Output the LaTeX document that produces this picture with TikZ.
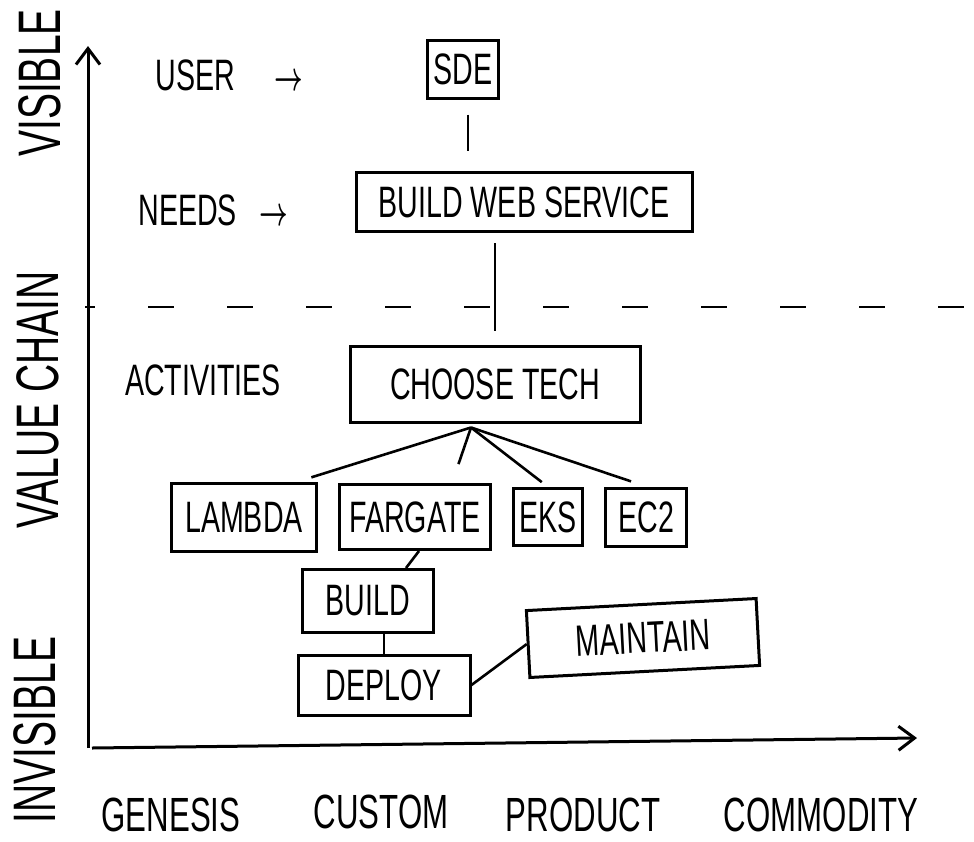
\documentclass[tikz,border=0pt]{standalone}
\usepackage{fontspec}
\setmainfont[FakeStretch=0.65]{Liberation Sans}
\usepackage{tikz}
\usetikzlibrary{arrows.meta, positioning, calc}

\newcommand{\handarrow}{\scalebox{0.6}[1]{\fontsize{20}{20}\selectfont\boldmath$\rightarrow$}}

\begin{document}
\begin{tikzpicture}[
  x=0.5pt, y=-0.5pt,
  node distance=10pt,
  hand/.style={font=\fontsize{22}{24}\selectfont, inner sep=0pt},
  sidelabel/.style={font=\fontsize{30}{32}\selectfont, rotate=90, inner sep=0pt},
  stage/.style={font=\fontsize{24}{26}\selectfont, inner sep=0pt},
  box/.style={draw, line width=1.5pt, font=\fontsize{22}{24}\selectfont, inner sep=3pt, align=center},
  link/.style={line width=1.3pt},
  axis/.style={line width=1.5pt, -{Straight Barb[length=8pt, width=12pt]}}
]
  \useasboundingbox (0,0) rectangle (974,841);

  % axes and the visible / invisible divider
  \coordinate (origin) at (88,748);
  \coordinate (ytop) at (88,46);
  \coordinate (xend) at (917,738);
  \draw[axis] (origin) -- (ytop);
  \draw[axis] ([xshift=2pt]origin) -- (xend);
  \coordinate (divl) at (85,307);
  \coordinate (divr) at (966,307);
  \draw[link, dash pattern=on 13pt off 26.5pt, dash phase=8pt] (divl) -- (divr);

  \node[sidelabel] (visible) at (40,83) {VISIBLE};
  \node[sidelabel] (chain) at (38,400) {VALUE CHAIN};
  \node[sidelabel] (invisible) at (35,730) {INVISIBLE};

  \node[stage] (genesis) at (171,815) {GENESIS};
  \node[stage] (custom) at (381,812) {CUSTOM};
  \node[stage] (product) at (583,815) {PRODUCT};
  \node[stage] (commodity) at (821,815) {COMMODITY};

  \node[hand, anchor=west] (user) at (155,75) {USER\hspace{20pt}\handarrow};
  \node[hand, anchor=west] (needs) at (138,210) {NEEDS\hspace{11.5pt}\handarrow};
  \node[hand] (activities) at (203,380) {ACTIVITIES};

  % components
  \node[box, minimum width=34.5pt, minimum height=29pt] (sde) at (463,69) {SDE};
  \node[box, minimum width=168pt, minimum height=29.5pt] (bws) at (524,202) {BUILD WEB SERVICE};
  \node[box, minimum width=145pt, minimum height=38pt] (ct) at (495,384) {CHOOSE TECH};
  \node[box, minimum width=72.5pt, minimum height=34pt] (lambda) at (244,517) {LAMBDA};
  \node[box, minimum width=75.5pt, minimum height=32.5pt, right=of lambda] (fargate) {FARGATE};
  \node[box, minimum width=33.5pt, minimum height=28.5pt, right=of fargate] (eks) {EKS};
  \node[box, minimum width=40.5pt, minimum height=29pt, right=of eks] (ec2) {EC2};
  \node[box, minimum width=65.5pt, minimum height=31.5pt] (build) at (368,601) {BUILD};
  \node[box, minimum width=86pt, minimum height=30pt] (deploy) at (384,685) {DEPLOY};
  \node[box, minimum width=115pt, minimum height=33.5pt, rotate=3] (maintain) at (643,638) {MAINTAIN};

  % dependencies
  \draw[link, shorten <=7.5pt, shorten >=10pt] ([xshift=2.5pt]sde.south) -- ([xshift=2.5pt]sde.south |- bws.north);
  \draw[link, shorten <=5pt, shorten >=7pt] (bws.south -| ct.north) -- (ct.north);
  \coordinate (fan) at ([xshift=-12pt, yshift=-2pt]ct.south);
  \draw[link, shorten >=7pt] (fan) -- ([xshift=-10pt]lambda.north east);
  \draw[link, shorten >=10pt] (fan) -- ([xshift=-20pt]fargate.north east);
  \draw[link, shorten >=4pt] (fan) -- (eks.north);
  \draw[link, shorten >=8pt] (fan) -- (ec2.north);
  \draw[link] ([xshift=2pt]fargate.south) -- ([xshift=19pt]build.north);
  \draw[link] (build.south -| deploy.north) -- (deploy.north);
  \draw[link] (deploy.east) -- (maintain.west);
\end{tikzpicture}
\end{document}
